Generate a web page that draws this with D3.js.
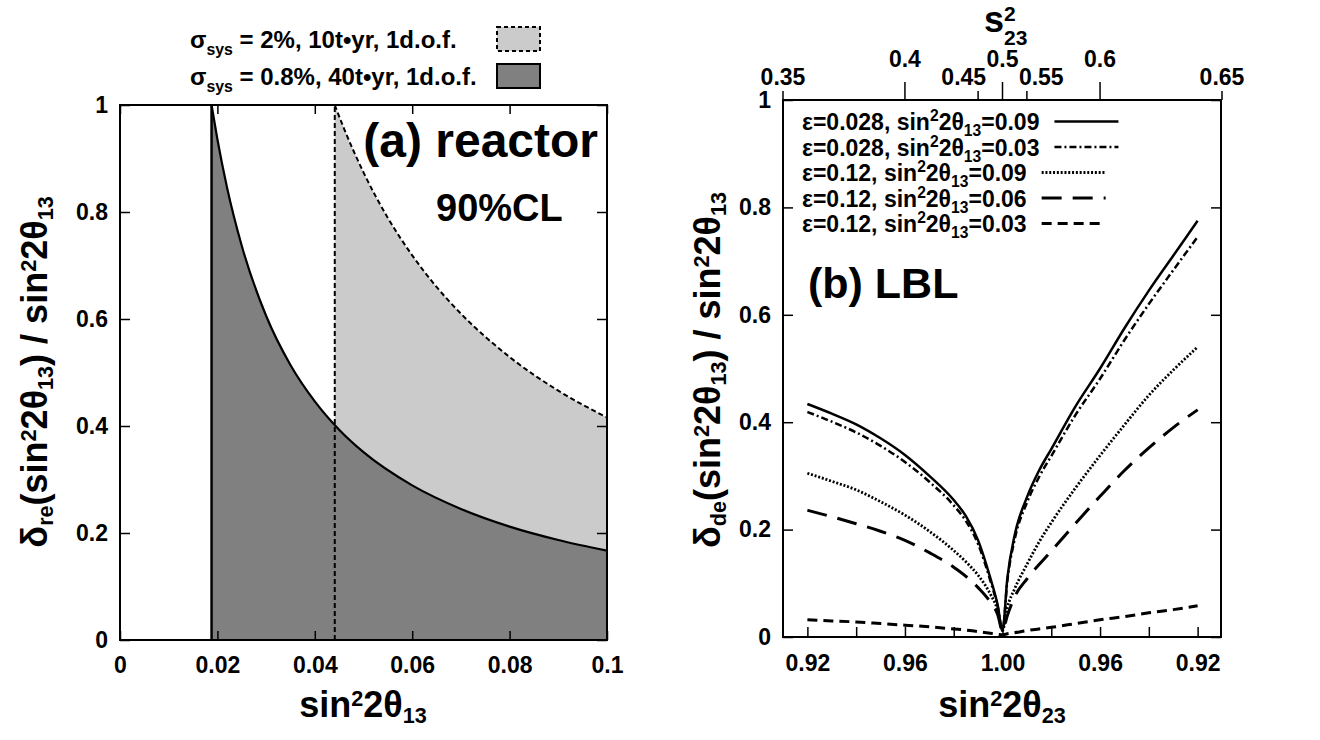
<!DOCTYPE html>
<html>
<head>
<meta charset="utf-8">
<script src="https://cdn.jsdelivr.net/npm/d3@7"></script>
<style>
body { margin: 0; background: #fff; }
svg text { font-family: "Liberation Sans", Arial, sans-serif; font-weight: bold; fill: #000; }
</style>
</head>
<body>
<svg id="chart" width="1320" height="740"></svg>
<script>
// ---- panel (a) : reactor ----
var aXTicks = [0, 0.02, 0.04, 0.06, 0.08, 0.1],
    aYTicks = [0, 0.2, 0.4, 0.6, 0.8, 1];

// sigma_sys = 0.8%, 40 t*yr (dark region, solid edge)
var aDarkX = [0.0188, 0.02, 0.022, 0.025, 0.03, 0.035, 0.04, 0.045, 0.05, 0.06, 0.07, 0.08, 0.09, 0.1],
    aDarkY = [1.0, 0.936, 0.845, 0.737, 0.606, 0.514, 0.446, 0.393, 0.351, 0.289, 0.245, 0.212, 0.187, 0.167];

// sigma_sys = 2%, 10 t*yr (light region, dashed edge)
var aLightX = [0.0441, 0.046, 0.05, 0.055, 0.06, 0.065, 0.07, 0.08, 0.09, 0.1],
    aLightY = [1.0, 0.956, 0.874, 0.789, 0.719, 0.66, 0.61, 0.529, 0.466, 0.416];

var aLegendLabels = [
    [["σ", 0], ["sys", -1], [" = 2%, 10t•yr, 1d.o.f.", 0]],
    [["σ", 0], ["sys", -1], [" = 0.8%, 40t•yr, 1d.o.f.", 0]]
];

// ---- panel (b) : LBL ----
// signed deviation: sin^2(2θ23) = 1 - |dev|, dev < 0 means s23^2 < 0.5
var bDev = [-0.08, -0.07, -0.06, -0.05, -0.04, -0.03, -0.02, -0.015, -0.01, -0.005, -0.002, 0,
            0.002, 0.005, 0.01, 0.015, 0.02, 0.03, 0.04, 0.05, 0.06, 0.07, 0.08];

var bSolid   = [0.434, 0.416, 0.396, 0.370, 0.339, 0.300, 0.255, 0.225, 0.180, 0.110, 0.060, 0.012,
                0.110, 0.190, 0.260, 0.310, 0.350, 0.430, 0.500, 0.575, 0.645, 0.710, 0.775],
    bDashDot = [0.419, 0.401, 0.381, 0.356, 0.326, 0.289, 0.245, 0.216, 0.173, 0.105, 0.057, 0.012,
                0.105, 0.182, 0.250, 0.298, 0.337, 0.414, 0.481, 0.553, 0.620, 0.683, 0.745],
    bDotted  = [0.305, 0.290, 0.274, 0.252, 0.227, 0.197, 0.161, 0.140, 0.115, 0.080, 0.050, 0.012,
                0.055, 0.090, 0.135, 0.177, 0.213, 0.278, 0.338, 0.395, 0.450, 0.497, 0.540],
    bLongDash = [0.236, 0.224, 0.211, 0.197, 0.180, 0.157, 0.130, 0.113, 0.092, 0.065, 0.042, 0.012,
                0.040, 0.075, 0.108, 0.135, 0.160, 0.212, 0.262, 0.310, 0.352, 0.390, 0.423],
    bShortDash = [0.032, 0.030, 0.028, 0.025, 0.022, 0.019, 0.015, 0.013, 0.010, 0.007, 0.005, 0.004,
                0.006, 0.008, 0.012, 0.015, 0.018, 0.025, 0.032, 0.038, 0.045, 0.051, 0.058];

var bSeries = [bSolid, bDashDot, bDotted, bLongDash, bShortDash];
var bLabels = [
    [["ε=0.028, sin", 0], ["2", 1], ["2θ", 0], ["13", -1], ["=0.09", 0]],
    [["ε=0.028, sin", 0], ["2", 1], ["2θ", 0], ["13", -1], ["=0.03", 0]],
    [["ε=0.12, sin", 0], ["2", 1], ["2θ", 0], ["13", -1], ["=0.09", 0]],
    [["ε=0.12, sin", 0], ["2", 1], ["2θ", 0], ["13", -1], ["=0.06", 0]],
    [["ε=0.12, sin", 0], ["2", 1], ["2θ", 0], ["13", -1], ["=0.03", 0]]
];

var bDevTicks = [-0.08, -0.06, -0.04, -0.02, 0, 0.02, 0.04, 0.06, 0.08],
    bDevLabelled = [-0.08, -0.04, 0, 0.04, 0.08],
    bYTicks = [0, 0.2, 0.4, 0.6, 0.8, 1],
    sMajor = [0.4, 0.5, 0.6],          // top axis s23^2
    sMinor = [0.35, 0.45, 0.55, 0.65];

// line styles of the five LBL curves
var bDash = [null, "7,3,2,3", "2,1.8", "20,11", "10,6"],
    bWidth = [2.5, 2.5, 2.8, 3, 3];

var svg = d3.select("#chart");

// text with sub/superscripts
function rich(sel, parts, size, up, down, scale) {
    var off = 0;
    parts.forEach(function (p) {
        var target = p[1] > 0 ? -up : (p[1] < 0 ? down : 0);
        sel.append("tspan")
            .attr("dy", target - off)
            .style("font-size", (p[1] ? size * scale : size) + "px")
            .text(p[0]);
        off = target;
    });
    return sel;
}

function styleTicks(g, labelSize) {
    g.select(".domain").remove();
    g.selectAll(".tick line").attr("stroke", "#000").attr("stroke-width", 1.5);
    g.selectAll(".tick text").style("font-size", labelSize + "px").attr("fill", "#000");
}

// ================= panel (a) =================
var xA = d3.scaleLinear().domain([0, 0.1]).range([120, 607]),
    yA = d3.scaleLinear().domain([0, 1]).range([640, 105]);

var areaA = d3.area()
    .x(function (d) { return xA(d[0]); })
    .y0(yA(0))
    .y1(function (d) { return yA(d[1]); })
    .curve(d3.curveMonotoneX);
var lineA = d3.line()
    .x(function (d) { return xA(d[0]); })
    .y(function (d) { return yA(d[1]); })
    .curve(d3.curveMonotoneX);

var lightPts = d3.zip(aLightX, aLightY),
    darkPts = d3.zip(aDarkX, aDarkY);

svg.append("path").attr("d", areaA(lightPts)).attr("fill", "#cbcbcb");
svg.append("path").attr("d", areaA(darkPts)).attr("fill", "#808080");

// edges
svg.append("path").attr("d", lineA(lightPts)).attr("fill", "none")
    .attr("stroke", "#000").attr("stroke-width", 2).attr("stroke-dasharray", "5,3");
svg.append("line")
    .attr("x1", xA(aLightX[0])).attr("x2", xA(aLightX[0]))
    .attr("y1", yA(0)).attr("y2", yA(aLightY[0]))
    .attr("stroke", "#000").attr("stroke-width", 2).attr("stroke-dasharray", "5,3");
svg.append("path").attr("d", lineA(darkPts)).attr("fill", "none")
    .attr("stroke", "#000").attr("stroke-width", 2.2);
svg.append("line")
    .attr("x1", xA(aDarkX[0])).attr("x2", xA(aDarkX[0]))
    .attr("y1", yA(0)).attr("y2", yA(aDarkY[0]))
    .attr("stroke", "#000").attr("stroke-width", 2.5);

svg.append("g").attr("transform", "translate(0,640)")
    .call(d3.axisBottom(xA).tickValues(aXTicks).tickSize(-9).tickPadding(17)
        .tickFormat(function (d) { return String(d); }))
    .call(styleTicks, 23);
svg.append("g").attr("transform", "translate(0,105)")
    .call(d3.axisTop(xA).tickValues(aXTicks).tickSize(-9).tickFormat(""))
    .call(styleTicks, 23);
svg.append("g").attr("transform", "translate(120,0)")
    .call(d3.axisLeft(yA).tickValues(aYTicks).tickSize(-10).tickPadding(12)
        .tickFormat(function (d) { return String(d); }))
    .call(styleTicks, 23);
svg.append("g").attr("transform", "translate(607,0)")
    .call(d3.axisRight(yA).tickValues(aYTicks).tickSize(-10).tickFormat(""))
    .call(styleTicks, 23);

svg.append("rect").attr("x", 120).attr("y", 105).attr("width", 487).attr("height", 535)
    .attr("fill", "none").attr("stroke", "#000").attr("stroke-width", 2);

svg.append("text").attr("x", 598).attr("y", 157).attr("text-anchor", "end")
    .style("font-size", "48px").text("(a) reactor");
svg.append("text").attr("x", 436).attr("y", 221)
    .style("font-size", "38px").text("90%CL");

// axis titles
rich(svg.append("text").attr("x", 363).attr("y", 717).attr("text-anchor", "middle"),
    [["sin", 0], ["2", 1], ["2θ", 0], ["13", -1]], 36, 11, 6, 0.6);
rich(svg.append("text").attr("transform", "translate(47,372) rotate(-90)").attr("text-anchor", "middle"),
    [["δ", 0], ["re", -1], ["(sin", 0], ["2", 1], ["2θ", 0], ["13", -1], [") / sin", 0], ["2", 1], ["2θ", 0], ["13", -1]],
    36, 11, 6, 0.6);

// legend
var aLegFill = ["#cbcbcb", "#808080"], aLegDash = ["4,3", null], aLegBase = [48, 85];
aLegendLabels.forEach(function (lab, i) {
    rich(svg.append("text").attr("x", 190).attr("y", aLegBase[i]), lab, 24, 9, 7, 0.66);
    svg.append("rect").attr("x", 497).attr("y", aLegBase[i] - 21).attr("width", 43).attr("height", 24)
        .attr("fill", aLegFill[i]).attr("stroke", "#000").attr("stroke-width", 2)
        .attr("stroke-dasharray", aLegDash[i]);
});

// ================= panel (b) =================
var xB = d3.scaleLinear().domain([-0.09, 0.09]).range([783, 1222]),
    yB = d3.scaleLinear().domain([0, 1]).range([637, 100]);

var lineB = d3.line()
    .x(function (d) { return xB(d[0]); })
    .y(function (d) { return yB(d[1]); })
    .curve(d3.curveMonotoneX);

bSeries.forEach(function (ys, i) {
    svg.append("path").attr("d", lineB(d3.zip(bDev, ys)))
        .attr("fill", "none").attr("stroke", "#000")
        .attr("stroke-width", bWidth[i])
        .attr("stroke-dasharray", bDash[i]);
});

svg.append("g").attr("transform", "translate(0,637)")
    .call(d3.axisBottom(xB).tickValues(bDevTicks).tickSize(-10).tickPadding(18)
        .tickFormat(function (d) {
            return bDevLabelled.indexOf(d) >= 0 ? (1 - Math.abs(d)).toFixed(2) : "";
        }))
    .call(styleTicks, 23);
svg.append("g").attr("transform", "translate(783,0)")
    .call(d3.axisLeft(yB).tickValues(bYTicks).tickSize(-10).tickPadding(12)
        .tickFormat(function (d) { return String(d); }))
    .call(styleTicks, 23);
svg.append("g").attr("transform", "translate(1221,0)")
    .call(d3.axisRight(yB).tickValues(bYTicks).tickSize(-10).tickFormat(""))
    .call(styleTicks, 23);

// top axis in s23^2 : sin^2(2θ) = 4 s (1 - s)
function devOfS(s) { return (s < 0.5 ? -1 : 1) * (1 - 4 * s * (1 - s)); }
var topG = svg.append("g");
sMajor.concat(sMinor).forEach(function (s) {
    var major = sMajor.indexOf(s) >= 0,
        x = xB(devOfS(s)),
        len = major ? 18 : 9;
    topG.append("line").attr("x1", x).attr("x2", x).attr("y1", 100).attr("y2", 100 - len)
        .attr("stroke", "#000").attr("stroke-width", 1.5);
    var anchor = "middle", dx = 0;
    if (!major && s > 0.4 && s < 0.5) { anchor = "end"; dx = 8; }
    if (!major && s > 0.5 && s < 0.6) { anchor = "start"; dx = -8; }
    topG.append("text").attr("x", x + dx).attr("y", major ? 67 : 85)
        .attr("text-anchor", anchor).style("font-size", "23px")
        .text(String(s));
});

svg.append("rect").attr("x", 783).attr("y", 100).attr("width", 438).attr("height", 537)
    .attr("fill", "none").attr("stroke", "#000").attr("stroke-width", 2);

// top title s23^2
svg.append("text").attr("x", 1004).attr("y", 32).attr("text-anchor", "end")
    .style("font-size", "36px").text("s");
svg.append("text").attr("x", 1004).attr("y", 21).style("font-size", "21px").text("2");
svg.append("text").attr("x", 1004).attr("y", 45).style("font-size", "21px").text("23");

svg.append("text").attr("x", 808).attr("y", 298).style("font-size", "43px").text("(b) LBL");

// legend
bLabels.forEach(function (lab, i) {
    var base = 130 + i * 25.5;
    var t = rich(svg.append("text").attr("x", 802).attr("y", base), lab, 23, 9, 6, 0.68);
    var x0 = 802 + t.node().getComputedTextLength() + 15;
    svg.append("line").attr("x1", x0).attr("x2", x0 + 64)
        .attr("y1", base - 8.5).attr("y2", base - 8.5)
        .attr("stroke", "#000").attr("stroke-width", bWidth[i])
        .attr("stroke-dasharray", bDash[i]);
});

// axis titles
rich(svg.append("text").attr("x", 1002).attr("y", 717).attr("text-anchor", "middle"),
    [["sin", 0], ["2", 1], ["2θ", 0], ["23", -1]], 36, 11, 6, 0.6);
rich(svg.append("text").attr("transform", "translate(720,370) rotate(-90)").attr("text-anchor", "middle"),
    [["δ", 0], ["de", -1], ["(sin", 0], ["2", 1], ["2θ", 0], ["13", -1], [") / sin", 0], ["2", 1], ["2θ", 0], ["13", -1]],
    36, 11, 6, 0.6);
</script>
</body>
</html>
